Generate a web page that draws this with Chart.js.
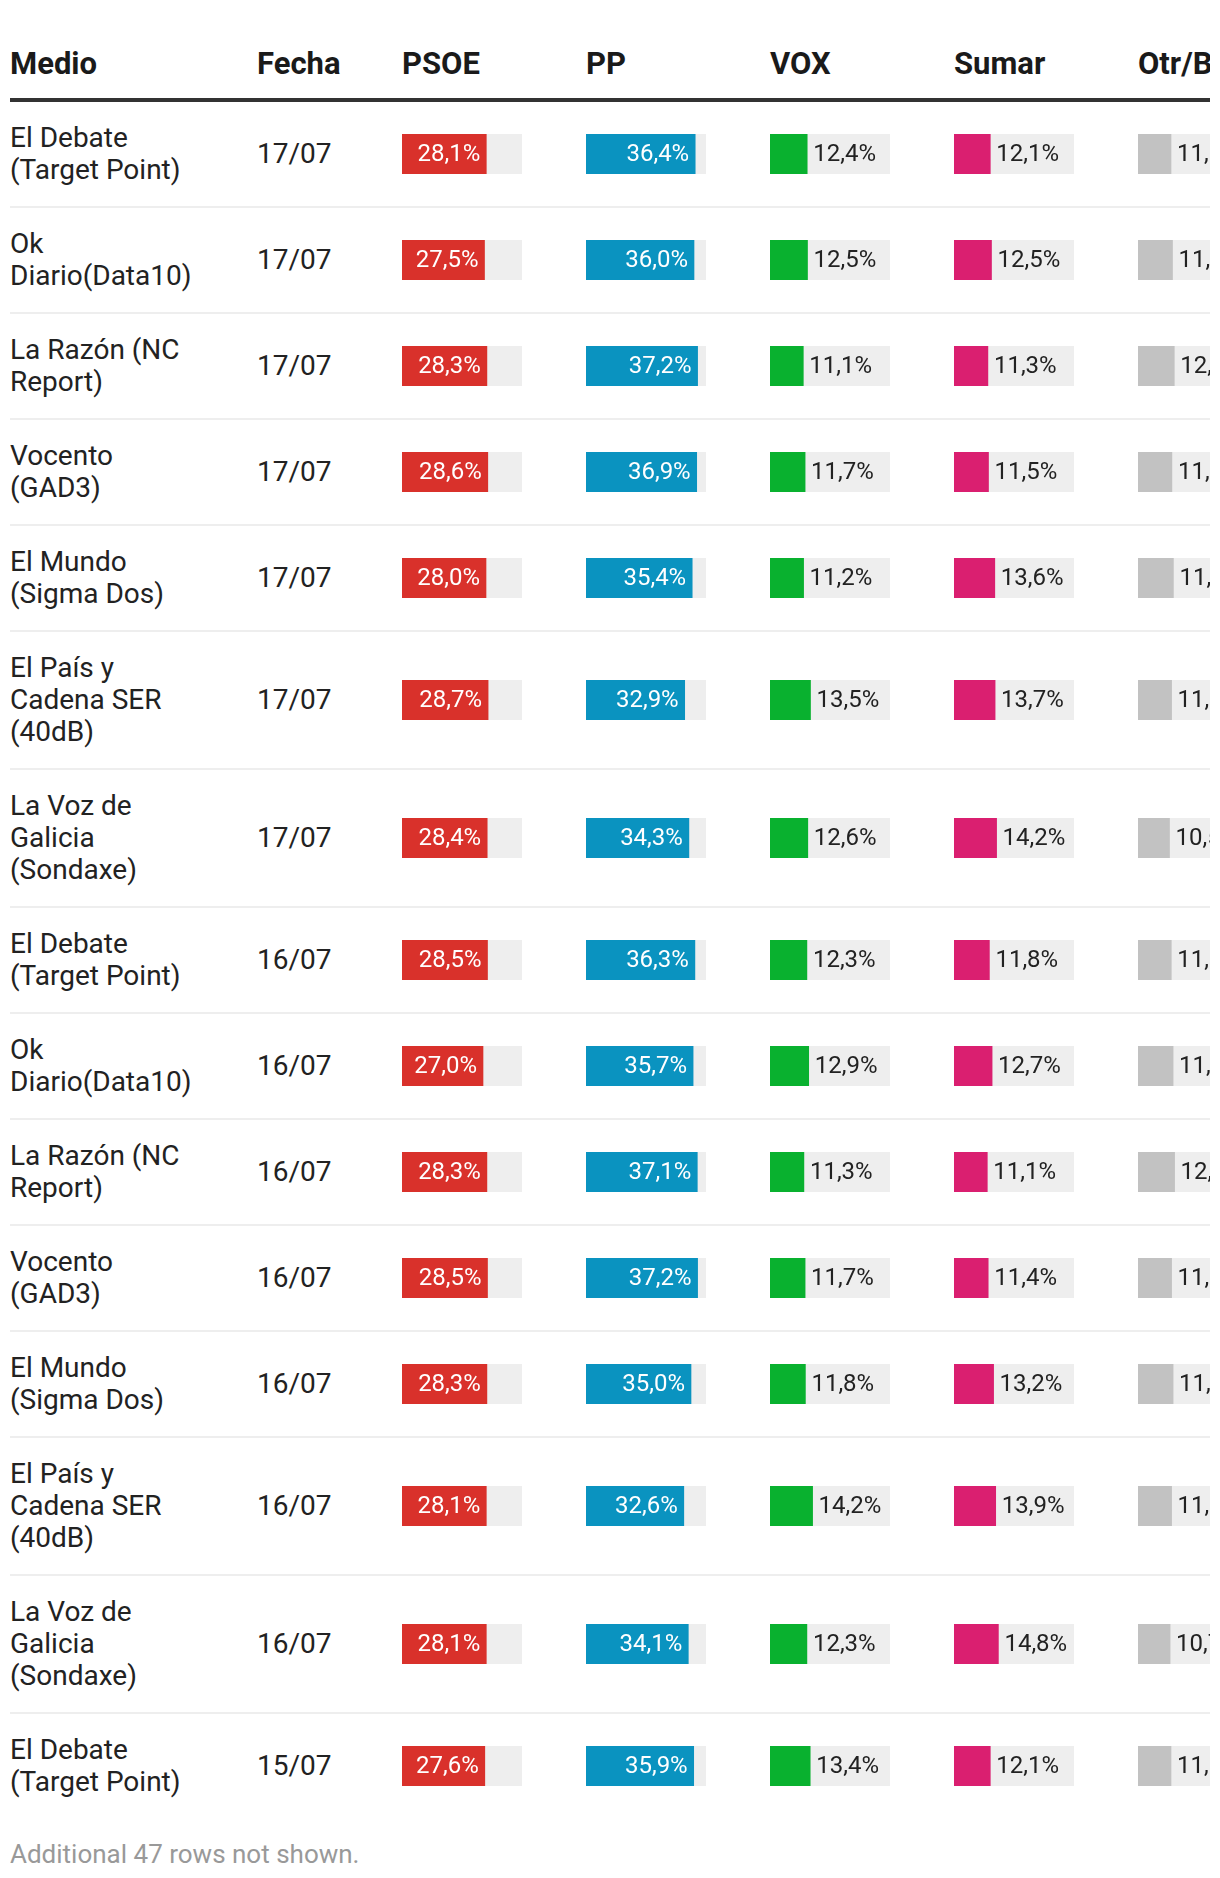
<!DOCTYPE html>
<html lang="es">
<head>
<meta charset="utf-8">
<title>Encuestas 23J</title>
<script src="https://cdn.jsdelivr.net/npm/chart.js@4.4.1/dist/chart.umd.min.js"></script>
<style>
    html, body { margin: 0; padding: 0; background: #fff; }
    body { font-family: Roboto, "Noto Sans", sans-serif; color: #222; }
    #wrap { position: absolute; left: 10px; top: 0; width: 1200px; overflow: hidden; }
    table { border-collapse: separate; border-spacing: 0; table-layout: fixed; width: 1312px; }
    th {
        font-size: 31px; font-weight: 700; line-height: 36px; text-align: left;
        padding: 46px 0 16px; border-bottom: 4px solid #333; color: #1a1a1a;
        white-space: nowrap; vertical-align: bottom;
    }
    td { font-size: 28px; line-height: 32px; padding: 20px 0; border-bottom: 2px solid #eee; vertical-align: middle; }
    tr:last-child td { border-bottom: none; }
    td.medio { padding-right: 57px; }
    canvas.bar { display: block; }
    #note { font-size: 26px; line-height: 30px; color: #999; margin-top: 21px; }
</style>
</head>
<body>
<div id="wrap">
    <table id="tabla">
        <colgroup>
            <col style="width:247px"><col style="width:145px">
            <col style="width:184px"><col style="width:184px"><col style="width:184px"><col style="width:184px"><col style="width:184px">
        </colgroup>
        <thead><tr id="cabecera"></tr></thead>
        <tbody id="cuerpo"></tbody>
    </table>
    <div id="note">Additional 47 rows not shown.</div>
</div>
<script>
(function(){
    "use strict";

    // Datos de la tabla
    const columnas = ['Medio', 'Fecha', 'PSOE', 'PP', 'VOX', 'Sumar', 'Otr/Bl'];
    const medios = [
        'El Debate (Target Point)', 'Ok Diario(Data10)', 'La Razón (NC Report)', 'Vocento (GAD3)',
        'El Mundo (Sigma Dos)', 'El País y Cadena SER (40dB)', 'La Voz de Galicia (Sondaxe)',
        'El Debate (Target Point)', 'Ok Diario(Data10)', 'La Razón (NC Report)', 'Vocento (GAD3)',
        'El Mundo (Sigma Dos)', 'El País y Cadena SER (40dB)', 'La Voz de Galicia (Sondaxe)',
        'El Debate (Target Point)'
    ];
    const fechas = ['17/07', '17/07', '17/07', '17/07', '17/07', '17/07', '17/07',
                    '16/07', '16/07', '16/07', '16/07', '16/07', '16/07', '16/07', '15/07'];
    const psoe  = [28.1, 27.5, 28.3, 28.6, 28.0, 28.7, 28.4, 28.5, 27.0, 28.3, 28.5, 28.3, 28.1, 28.1, 27.6];
    const pp    = [36.4, 36.0, 37.2, 36.9, 35.4, 32.9, 34.3, 36.3, 35.7, 37.1, 37.2, 35.0, 32.6, 34.1, 35.9];
    const vox   = [12.4, 12.5, 11.1, 11.7, 11.2, 13.5, 12.6, 12.3, 12.9, 11.3, 11.7, 11.8, 14.2, 12.3, 13.4];
    const sumar = [12.1, 12.5, 11.3, 11.5, 13.6, 13.7, 14.2, 11.8, 12.7, 11.1, 11.4, 13.2, 13.9, 14.8, 12.1];
    const otros = [11.0, 11.5, 12.1, 11.3, 11.8, 11.2, 10.5, 11.1, 11.7, 12.2, 11.2, 11.7, 11.2, 10.7, 11.0];
    const escalaMax = 40;

    const series = [psoe, pp, vox, sumar, otros];
    const colores = ['#d9312b', '#0a93c0', '#09b12f', '#da1f70', '#c2c2c2'];

    /**
     * Dibuja el porcentaje dentro de la barra si cabe, si no a la derecha.
    */
    const etiquetaBarra = {
        id: 'etiquetaBarra',
        afterDatasetsDraw(chart) {
            const bar = chart.getDatasetMeta(0).data[0];
            const valor = chart.data.datasets[0].data[0];
            const texto = valor.toFixed(1).replace('.', ',') + '%';
            const ctx = chart.ctx;
            ctx.save();
            ctx.font = '24px Roboto';
            ctx.textBaseline = 'middle';
            const ancho = ctx.measureText(texto).width;
            if (ancho + 12 < bar.x - bar.base) {
                ctx.fillStyle = '#fff';
                ctx.textAlign = 'right';
                ctx.fillText(texto, bar.x - 6, bar.y + 1);
            } else {
                ctx.fillStyle = '#222';
                ctx.textAlign = 'left';
                ctx.fillText(texto, bar.x + 6, bar.y + 1);
            }
            ctx.restore();
        }
    };

    /**
     * Crea la mini barra horizontal de una celda.
     * @param {HTMLCanvasElement} canvas - Lienzo de la celda
     * @param {number} valor - Porcentaje
     * @param {string} color - Color del partido
    */
    function crearBarra(canvas, valor, color) {
        return new Chart(canvas, {
            type: 'bar',
            data: {
                labels: [''],
                datasets: [{
                    data: [valor],
                    backgroundColor: color,
                    barPercentage: 1,
                    categoryPercentage: 1,
                    grouped: false
                }, {
                    data: [escalaMax],
                    backgroundColor: '#eeeeee',
                    barPercentage: 1,
                    categoryPercentage: 1,
                    grouped: false
                }]
            },
            options: {
                indexAxis: 'y',
                responsive: false,
                animation: false,
                events: [],
                layout: { padding: 0 },
                plugins: {
                    legend: { display: false },
                    tooltip: { enabled: false }
                },
                scales: {
                    x: { display: false, min: 0, max: escalaMax },
                    y: { display: false }
                }
            },
            plugins: [etiquetaBarra]
        });
    }

    function init() {
        const cabecera = document.getElementById('cabecera');
        columnas.forEach(nombre => {
            const th = document.createElement('th');
            th.textContent = nombre;
            cabecera.appendChild(th);
        });

        const cuerpo = document.getElementById('cuerpo');
        const pendientes = [];
        medios.forEach((medio, i) => {
            const tr = document.createElement('tr');
            const tdMedio = document.createElement('td');
            tdMedio.className = 'medio';
            tdMedio.textContent = medio;
            tr.appendChild(tdMedio);

            const tdFecha = document.createElement('td');
            tdFecha.textContent = fechas[i];
            tr.appendChild(tdFecha);

            series.forEach((serie, j) => {
                const td = document.createElement('td');
                const canvas = document.createElement('canvas');
                canvas.className = 'bar';
                canvas.width = 120;
                canvas.height = 40;
                td.appendChild(canvas);
                tr.appendChild(td);
                pendientes.push([canvas, serie[i], colores[j]]);
            });
            cuerpo.appendChild(tr);
        });

        pendientes.forEach(p => crearBarra(p[0], p[1], p[2]));
    }

    init();
})();
</script>
</body>
</html>
